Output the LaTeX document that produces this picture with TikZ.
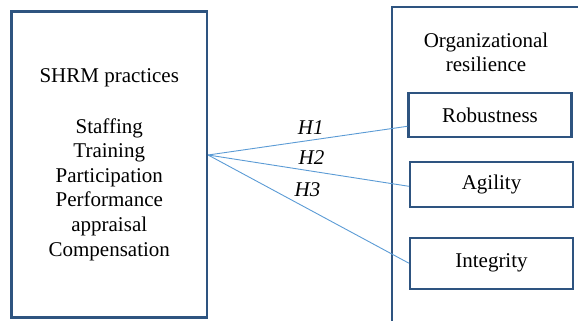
\documentclass[tikz,border=0pt]{standalone}
\usepackage{fontspec}
\setmainfont{Liberation Serif}
\usepackage{tikz}
\usetikzlibrary{positioning}
\definecolor{frameblue}{RGB}{46,84,128}
\definecolor{linkblue}{RGB}{91,155,213}

\begin{document}
\begin{tikzpicture}[
    x=1pt, y=-1pt,
    font=\fontsize{21}{24.6}\selectfont,
    frame/.style={draw=frameblue, line width=2.2pt},
    dimbox/.style={frame, minimum width=163pt, inner sep=0pt},
    link/.style={draw=linkblue, line width=0.9pt},
    hlab/.style={font=\fontsize{21}{24.6}\selectfont\itshape, inner sep=0pt},
]
\useasboundingbox (0,0) rectangle (578,321);

% SHRM practices
\node[frame, minimum width=195.5pt, minimum height=306pt, align=center, inner sep=0pt] (shrm) at (109.25,164.5)
    {SHRM practices\\[26pt]Staffing\\Training\\Participation\\Performance\\appraisal\\Compensation};

% Organizational resilience (frame runs off the page)
\draw[frame] (392,322) -- (392,7) -- (579,7);
\node[align=center, inner sep=0pt] (orgtitle) at (486,52.4) {Organizational\\resilience};

% Dimensions
\node[dimbox, minimum height=44pt] (rob) at (490,115.3) {Robustness};
\node[dimbox, minimum height=45pt] (agi) at (491.5,184.8) {Agility};
\node[dimbox, minimum height=51pt] (integ) at (491.5,263.2) {Integrity};

% Hypotheses
\coordinate (src) at ([yshift=9.5pt]shrm.east);
\draw[link] (src) -- node[hlab, pos=0.515, above=5pt] (h1) {H1} ([yshift=-11pt]rob.west);
\draw[link] (src) -- node[hlab, pos=0.515, above=6pt] (h2) {H2} ([yshift=-1.5pt]agi.west);
\draw[link] (src) -- node[hlab, pos=0.495, above=11pt] (h3) {H3} (integ.west);

\end{tikzpicture}
\end{document}
